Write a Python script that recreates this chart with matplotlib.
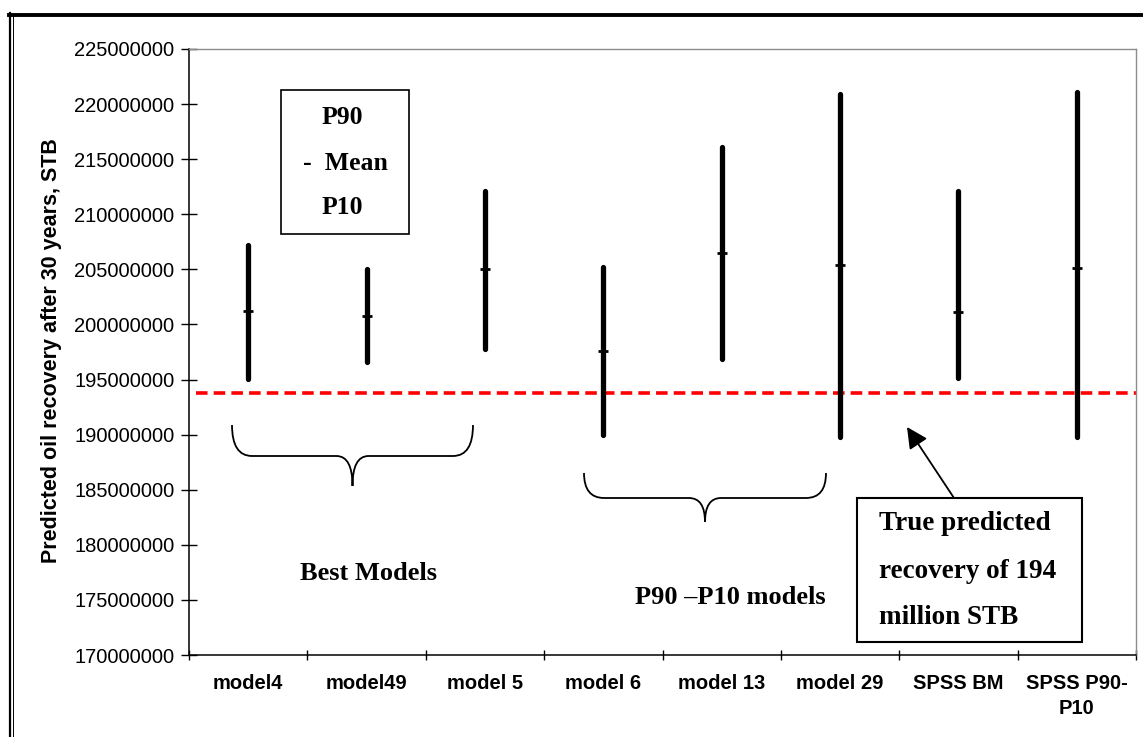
# -*- coding: utf-8 -*-
"""P10 / mean / P90 recovery ranges per model vs. the true recovery."""
import numpy as np
import matplotlib
matplotlib.use("Agg")
import matplotlib.pyplot as plt
from matplotlib.patches import Rectangle, FancyArrowPatch, PathPatch
from matplotlib.path import Path
from matplotlib.transforms import Affine2D

# ---- data (STB) ----
categories = ["model4", "model49", "model 5", "model 6", "model 13",
              "model 29", "SPSS BM", "SPSS P90-\nP10"]
p10 = np.array([195.05, 196.6, 197.8, 190.0, 196.9, 189.8, 195.1, 189.8]) * 1e6
mean = np.array([201.2, 200.8, 205.0, 197.6, 206.5, 205.4, 201.1, 205.1]) * 1e6
p90 = np.array([207.2, 205.05, 212.1, 205.25, 216.1, 220.9, 212.1, 221.1]) * 1e6
true_recovery = 193.8e6
y_ticks = np.arange(170e6, 225e6 + 1, 5e6)

SANS = "Liberation Sans"
SERIF = "Liberation Serif"
W, H = 1143, 737


def brace(x0, x1, yt, ym, yc, r=20, r2=16):
    """curly brace opening upward, in reference pixel coords"""
    xc = (x0 + x1) / 2
    verts = [(x0, yt), (x0, ym), (x0 + r, ym),
             (xc - r2, ym), (xc, ym), (xc, yc),
             (xc, ym), (xc + r2, ym),
             (x1 - r, ym), (x1, ym), (x1, yt)]
    codes = [Path.MOVETO, Path.CURVE3, Path.CURVE3,
             Path.LINETO, Path.CURVE3, Path.CURVE3,
             Path.CURVE3, Path.CURVE3,
             Path.LINETO, Path.CURVE3, Path.CURVE3]
    return Path(verts, codes)


def main():
    fig = plt.figure(figsize=(W / 100, H / 100), dpi=100)
    # pixel transform (origin top-left, like the reference picture)
    px = Affine2D().scale(1 / 100, -1 / 100).translate(0, H / 100) + fig.dpi_scale_trans

    ax = fig.add_axes([189 / W, 1 - 655 / H, (1136 - 189) / W, (655 - 49) / H])
    x = np.arange(len(categories))

    ax.plot([-0.44, 7.5], [true_recovery, true_recovery], color="#ff0000", lw=2.6,
            dashes=(3.2, 1.7), zorder=2)
    bars = ax.vlines(x, p10, p90, color="black", lw=3.8, zorder=3)
    bars.set_capstyle("round")
    ax.plot(x, mean, ls="none", marker="_", ms=7.2, mew=2, color="black", zorder=4)

    ax.set_xlim(-0.5, len(categories) - 0.5)
    ax.set_ylim(170e6, 225e6)
    ax.set_yticks(y_ticks, [f"{int(v)}" for v in y_ticks], fontsize=14.5, family=SANS)
    ax.set_xticks(np.arange(-0.5, len(categories)), [])
    ax.set_xticks(x, categories, minor=True, fontsize=14.5, family=SANS,
                  fontweight="bold", linespacing=1.4)
    ax.tick_params(axis="y", direction="inout", length=11, width=1, pad=5)
    ax.tick_params(axis="x", which="major", direction="inout", length=7, width=1)
    ax.tick_params(axis="x", which="minor", length=0, pad=14)
    for s in ("left", "bottom"):
        ax.spines[s].set_linewidth(1.1)
    for s in ("top", "right"):
        ax.spines[s].set_color("#8c8c8c")
        ax.spines[s].set_linewidth(1.0)

    fig.text(52, 351, "Predicted oil recovery after 30 years, STB", transform=px,
             rotation=90, ha="center", va="center", fontsize=15.5,
             family=SANS, fontweight="bold")

    # ---- legend-like box ----
    fig.patches.append(Rectangle((281, 90), 128, 144, transform=px, fill=False,
                                 ec="black", lw=1.2))
    for txt, (tx, ty) in [("P90", (342, 117)), ("-  Mean", (345, 163)), ("P10", (342, 208))]:
        fig.text(tx, ty, txt, transform=px, ha="center", va="center",
                 fontsize=18.5, family=SERIF, fontweight="bold")

    # ---- braces + group labels ----
    fig.patches.append(PathPatch(brace(232, 473, 425, 456, 486), transform=px,
                                 fill=False, ec="black", lw=1.3))
    fig.patches.append(PathPatch(brace(584, 826, 473, 498, 522), transform=px,
                                 fill=False, ec="black", lw=1.3))
    fig.text(369, 574, "Best Models", transform=px, ha="center", va="center",
             fontsize=19, family=SERIF, fontweight="bold")
    fig.text(730, 598, "P90 \u2013P10 models", transform=px, ha="center", va="center",
             fontsize=19, family=SERIF, fontweight="bold")

    # ---- true recovery callout ----
    fig.patches.append(Rectangle((857, 498), 225, 144, transform=px, fill=False,
                                 ec="black", lw=1.5))
    for txt, ty in [("True predicted", 524), ("recovery of 194", 571), ("million STB", 617)]:
        fig.text(879, ty, txt, transform=px, ha="left", va="center",
                 fontsize=19.5, family=SERIF, fontweight="bold")
    fig.patches.append(FancyArrowPatch((954, 498), (907, 427), transform=px,
                                       arrowstyle="-|>", mutation_scale=32,
                                       lw=1.3, color="black", shrinkA=0, shrinkB=0))

    # ---- page frame ----
    fig.add_artist(plt.Line2D([9, W], [14.5, 14.5], transform=px, color="black", lw=2.8))
    fig.add_artist(plt.Line2D([9.7, 9.7], [13, H], transform=px, color="black", lw=1.6))
    fig.add_artist(plt.Line2D([12.6, 12.6], [16, H], transform=px, color="black", lw=0.7))

    fig.savefig("out.png", dpi=100)


if __name__ == "__main__":
    main()
